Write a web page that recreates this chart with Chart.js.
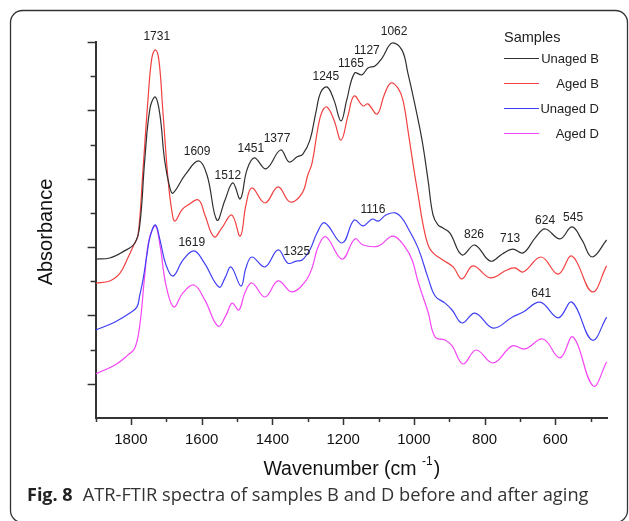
<!DOCTYPE html>
<html>
<head>
<meta charset="utf-8">
<script src="https://cdn.jsdelivr.net/npm/chart.js@4/dist/chart.umd.min.js"></script>
<style>
html,body{margin:0;padding:0;background:#fff;}
canvas{display:block;}
</style>
</head>
<body>
<canvas id="c" width="629" height="521"></canvas>
<script>
// ---- Data (wavenumber in cm-1, absorbance in arbitrary offset units) ----
const seriesNames = ['Unaged B', 'Aged B', 'Unaged D', 'Aged D'];

const wnUnagedB = [1900,1860,1823,1789,1775,1761,1746,1731,1718,1705,1690,1681,1647,1609,1585,1557,1534,1512,1491,1472,1451,1418,1377,1353,1330,1314,1294,1277,1263,1245,1226,1206,1190,1168,1147,1130,1110,1090,1062,1034,1017,997,977,960,946,932,918,898,864,828,784,750,721,691,657,629,587,553,525,496,455];
const absUnagedB = [0.465,0.468,0.486,0.512,0.565,0.755,0.907,0.939,0.886,0.755,0.673,0.658,0.711,0.752,0.711,0.579,0.638,0.688,0.641,0.726,0.761,0.729,0.784,0.749,0.764,0.772,0.813,0.895,0.954,0.968,0.930,0.869,0.930,1.009,1.004,1.024,1.030,1.053,1.097,1.077,1.009,0.916,0.813,0.696,0.594,0.565,0.556,0.541,0.477,0.506,0.459,0.480,0.494,0.483,0.527,0.553,0.524,0.559,0.521,0.471,0.521];

const wnAgedB = [1900,1860,1831,1809,1792,1780,1766,1752,1741,1731,1721,1710,1695,1684,1676,1656,1639,1609,1591,1565,1543,1515,1491,1475,1458,1421,1384,1350,1316,1300,1288,1271,1260,1246,1226,1206,1186,1169,1144,1130,1104,1084,1065,1045,1031,1017,1002,988,974,960,946,918,889,864,833,784,737,714,691,640,592,553,496,455];
const absAgedB = [0.395,0.401,0.424,0.468,0.506,0.535,0.726,0.930,1.053,1.077,1.047,0.901,0.696,0.603,0.576,0.609,0.623,0.638,0.594,0.530,0.556,0.594,0.532,0.623,0.673,0.629,0.676,0.632,0.658,0.711,0.746,0.851,0.895,0.910,0.872,0.813,0.886,0.942,0.913,0.919,0.889,0.945,0.980,0.965,0.930,0.843,0.740,0.652,0.565,0.506,0.483,0.462,0.442,0.407,0.445,0.410,0.433,0.439,0.427,0.471,0.421,0.474,0.369,0.445];

const wnUnagedD = [1900,1845,1803,1783,1775,1766,1755,1746,1731,1718,1701,1681,1653,1622,1594,1551,1534,1517,1489,1475,1458,1421,1384,1356,1333,1316,1294,1274,1252,1203,1169,1144,1118,1101,1079,1053,1034,1017,988,960,940,912,892,864,827,776,722,691,643,592,553,496,455];
const absUnagedD = [0.257,0.281,0.307,0.325,0.360,0.404,0.477,0.530,0.565,0.521,0.448,0.415,0.462,0.489,0.456,0.383,0.410,0.442,0.386,0.439,0.471,0.442,0.492,0.453,0.459,0.462,0.492,0.541,0.571,0.512,0.579,0.562,0.582,0.576,0.594,0.600,0.585,0.556,0.497,0.410,0.357,0.336,0.316,0.278,0.307,0.263,0.295,0.310,0.339,0.293,0.339,0.228,0.295];

const wnAgedD = [1900,1845,1809,1789,1775,1761,1749,1731,1718,1701,1679,1653,1622,1591,1554,1531,1514,1495,1478,1458,1421,1384,1345,1308,1288,1271,1249,1203,1167,1144,1101,1059,1025,1005,988,960,940,912,892,861,824,776,722,686,635,587,550,493,455];
const absAgedD = [0.129,0.155,0.184,0.205,0.272,0.418,0.521,0.562,0.506,0.389,0.325,0.366,0.389,0.345,0.269,0.301,0.336,0.316,0.366,0.395,0.354,0.401,0.369,0.398,0.439,0.500,0.530,0.465,0.524,0.506,0.503,0.532,0.500,0.462,0.398,0.310,0.237,0.228,0.211,0.158,0.199,0.161,0.211,0.202,0.231,0.176,0.237,0.094,0.164];

// Peak labels: text, anchor wavenumber, anchor absorbance
const peakText = ['1731','1609','1512','1451','1377','1245','1165','1127','1062','826','713','624','545','1619','1325','1116','641'];
const peakWn   = [1727,1613,1526,1461,1387,1249,1178,1133,1056,830,728,629,550,1628,1331,1116,640];
const peakAbs  = [1.115,0.778,0.708,0.787,0.816,0.998,1.036,1.074,1.129,0.535,0.524,0.576,0.585,0.512,0.486,0.609,0.363];

const xTickStep = 100;   // minor; labels every 200
const yTickStep = 0.1;

const seriesColors = ['#303030', '#f24040', '#4040f5', '#f545f5'];

function pts(w, a) { return w.map((v, i) => ({x: v, y: a[i]})); }

const SANS = '"Liberation Sans", Arial, sans-serif';

const deco = {
  id: 'deco',
  beforeDraw(chart) {
    const ctx = chart.ctx;
    ctx.save();
    ctx.fillStyle = '#fff';
    ctx.fillRect(0, 0, chart.width, chart.height);
    ctx.restore();
  },
  afterDraw(chart) {
    const ctx = chart.ctx;
    const x = chart.scales.x, y = chart.scales.y, ca = chart.chartArea;
    ctx.save();
    // tick marks (major longer)
    ctx.strokeStyle = '#333';
    ctx.lineWidth = 1.5;
    x.ticks.forEach(t => {
      const v = Math.round(t.value);
      if (v % 100 !== 0) return;
      const px = Math.round(x.getPixelForValue(v)) + 0.5;
      const len = v % 200 === 0 ? 7 : 4;
      ctx.beginPath(); ctx.moveTo(px, ca.bottom); ctx.lineTo(px, ca.bottom + len); ctx.stroke();
    });
    y.ticks.forEach(t => {
      const k = Math.round(t.value * 10);
      if (k === 0) return;
      const py = Math.round(y.getPixelForValue(t.value)) + 0.5;
      const len = k % 2 === 1 ? 8 : 5;
      ctx.beginPath(); ctx.moveTo(ca.left, py); ctx.lineTo(ca.left - len, py); ctx.stroke();
    });

    // peak annotations
    ctx.fillStyle = '#222';
    ctx.font = '12px ' + SANS;
    ctx.textAlign = 'center';
    ctx.textBaseline = 'middle';
    peakText.forEach((s, i) => {
      ctx.fillText(s, x.getPixelForValue(peakWn[i]), y.getPixelForValue(peakAbs[i]));
    });

    // legend
    ctx.textAlign = 'left';
    ctx.font = '14.5px ' + SANS;
    ctx.fillText('Samples', 504, 38);
    ctx.font = '13px ' + SANS;
    chart.data.datasets.forEach((ds, i) => {
      const ly = 58.5 + i * 25;
      ctx.strokeStyle = ds.borderColor;
      ctx.lineWidth = 1.2;
      ctx.beginPath(); ctx.moveTo(504, ly); ctx.lineTo(539, ly); ctx.stroke();
      ctx.textAlign = 'right';
      ctx.fillStyle = '#222';
      ctx.fillText(ds.label, 599, ly + 0.5);
    });

    // axis titles
    ctx.fillStyle = '#111';
    ctx.save();
    ctx.translate(46, 232);
    ctx.rotate(-Math.PI / 2);
    ctx.textAlign = 'center';
    ctx.font = '20px ' + SANS;
    ctx.fillText('Absorbance', 0, 0);
    ctx.restore();

    const mainT = 'Wavenumber (cm ', supT = '-1', endT = ')';
    ctx.font = '19.5px ' + SANS;
    const w1 = ctx.measureText(mainT).width, w3 = ctx.measureText(endT).width;
    ctx.font = '12px ' + SANS;
    const w2 = ctx.measureText(supT).width;
    let sx = (ca.left + ca.right) / 2 - (w1 + w2 + w3) / 2;
    ctx.textAlign = 'left';
    ctx.textBaseline = 'alphabetic';
    ctx.font = '19.5px ' + SANS;
    ctx.fillText(mainT, sx, 475);
    ctx.font = '12px ' + SANS;
    ctx.fillText(supT, sx + w1, 465);
    ctx.font = '19.5px ' + SANS;
    ctx.fillText(endT, sx + w1 + w2 + 1, 475);

    // caption
    const CAP = '"Open Sans", "Noto Sans", sans-serif';
    ctx.font = 'bold 18px ' + CAP;
    ctx.fillStyle = '#222';
    ctx.fillText('Fig. 8', 27, 501);
    const fw = ctx.measureText('Fig. 8').width;
    ctx.font = '18.3px ' + CAP;
    ctx.fillStyle = '#333';
    ctx.fillText('ATR-FTIR spectra of samples B and D before and after aging', 27 + fw + 10, 501);

    // rounded frame
    ctx.strokeStyle = '#333';
    ctx.lineWidth = 1.3;
    ctx.beginPath();
    ctx.roundRect(10.5, 10.5, 617, 512, 12);
    ctx.stroke();
    ctx.restore();
  }
};

const chart = new Chart(document.getElementById('c'), {
  type: 'line',
  data: {
    datasets: [
      {label: seriesNames[0], data: pts(wnUnagedB, absUnagedB), borderColor: seriesColors[0]},
      {label: seriesNames[1], data: pts(wnAgedB, absAgedB), borderColor: seriesColors[1]},
      {label: seriesNames[2], data: pts(wnUnagedD, absUnagedD), borderColor: seriesColors[2]},
      {label: seriesNames[3], data: pts(wnAgedD, absAgedD), borderColor: seriesColors[3]}
    ]
  },
  options: {
    responsive: false,
    animation: false,
    devicePixelRatio: 1,
    events: [],
    layout: {padding: {left: 87.6, top: 42, right: 22, bottom: 0}},
    elements: {
      line: {borderWidth: 1.2, tension: 0.4, fill: false},
      point: {radius: 0}
    },
    plugins: {legend: {display: false}, tooltip: {enabled: false}, title: {display: false}},
    scales: {
      x: {
        type: 'linear',
        reverse: true,
        min: 454,
        max: 1900,
        afterFit(s) { s.height = 103; },
        border: {display: true, color: '#333', width: 2},
        grid: {display: false, drawTicks: false},
        ticks: {
          stepSize: xTickStep,
          includeBounds: false,
          autoSkip: false,
          maxRotation: 0,
          padding: 13,
          color: '#111',
          font: {family: SANS, size: 15},
          callback: v => (Math.round(v) % 200 === 0 ? String(Math.round(v)) : '')
        }
      },
      y: {
        type: 'linear',
        min: 0,
        max: 1.1,
        afterFit(s) { s.width = 8; },
        border: {display: true, color: '#333', width: 2},
        grid: {display: false, drawTicks: false},
        ticks: {stepSize: yTickStep, display: false}
      }
    }
  },
  plugins: [deco]
});
</script>
</body>
</html>
